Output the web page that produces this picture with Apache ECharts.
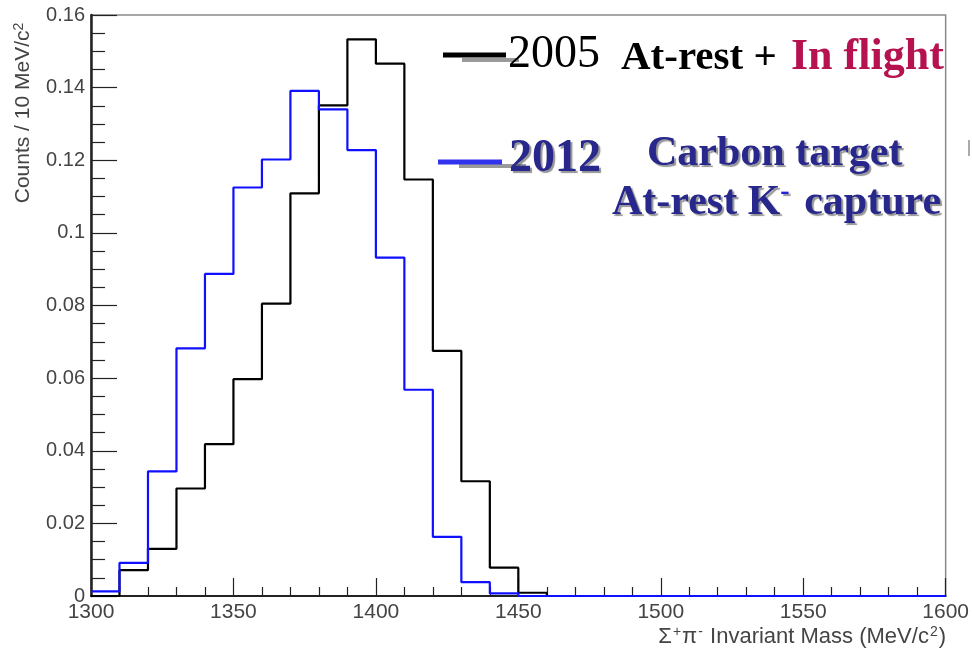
<!DOCTYPE html>
<html>
<head>
<meta charset="utf-8">
<script src="https://cdn.jsdelivr.net/npm/echarts@6/dist/echarts.min.js"></script>
<style>
html,body{margin:0;padding:0;background:#fff;}
#chart{width:972px;height:651px;}
</style>
</head>
<body>
<div id="chart"></div>
<script>
// Bin low edges (MeV/c^2), 10 MeV bins
var binLow = [1300,1310,1320,1330,1340,1350,1360,1370,1380,1390,
              1400,1410,1420,1430,1440,1450,1460,1470,1480,1490,
              1500,1510,1520,1530,1540,1550,1560,1570,1580,1590];
var xMax = 1600;
// 2005: At-rest + In flight (black)
var counts2005 = [0.0000,0.0071,0.0130,0.0296,0.0418,0.0597,0.0805,0.1109,0.1351,0.1533,
                  0.1466,0.1147,0.0675,0.0316,0.0078,0.0009,0,0,0,0,
                  0,0,0,0,0,0,0,0,0,0];
// 2012: Carbon target, at-rest K- capture (blue)
var counts2012 = [0.0013,0.0091,0.0343,0.0682,0.0887,0.1125,0.1202,0.1391,0.1340,0.1228,
                  0.0932,0.0568,0.0163,0.0038,0.0007,0,0,0,0,0,
                  0,0,0,0,0,0,0,0,0,0];

function histData(vals){
  var d = [];
  for (var i=0;i<binLow.length;i++) d.push([binLow[i], vals[i]]);
  d.push([xMax, vals[vals.length-1]]);
  return d;
}

var chart = echarts.init(document.getElementById('chart'), null, {renderer:'canvas'});
var navy = '#27278c';
var sans = '"Liberation Sans", Arial, sans-serif';
var serif = '"Liberation Serif", serif';
var shadow = {textShadowColor:'rgba(60,60,60,0.55)', textShadowOffsetX:2, textShadowOffsetY:2, textShadowBlur:1};
var option = {
  animation:false,
  backgroundColor:'#ffffff',
  grid:{left:91, right:26, top:15, bottom:55, show:true, borderColor:'#8a8a8a', borderWidth:1.5, backgroundColor:'transparent'},
  xAxis:{
    type:'value', min:1300, max:1600, interval:50,
    axisLine:{show:true, onZero:false, lineStyle:{color:'#222', width:2}},
    axisTick:{show:true, inside:true, length:18, lineStyle:{color:'#222', width:1.2}},
    minorTick:{show:true, splitNumber:5, length:9, lineStyle:{color:'#222', width:1.2}},
    splitLine:{show:false},
    axisLabel:{color:'#444', fontSize:21, fontFamily:sans, margin:6,
      showMinLabel:true, showMaxLabel:true, formatter:function(v){ return String(v); }}
  },
  yAxis:{
    type:'value', min:0, max:0.16, interval:0.02,
    axisLine:{show:true, lineStyle:{color:'#222', width:2.5}},
    axisTick:{show:true, inside:true, length:26, lineStyle:{color:'#222', width:1.2}},
    minorTick:{show:true, splitNumber:4, length:14, lineStyle:{color:'#222', width:1.2}},
    splitLine:{show:false},
    axisLabel:{color:'#444', fontSize:20, fontFamily:sans, margin:6,
      formatter:function(v){ return String(Math.round(v*100)/100); }}
  },
  series:[
    {type:'line', step:'end', data:histData(counts2005), symbol:'none',
     lineStyle:{color:'#000000', width:2.2}, z:3},
    {type:'line', step:'end', data:histData(counts2012), symbol:'none',
     lineStyle:{color:'#1010ff', width:2.2}, z:4}
  ],
  graphic:[
    {type:'text', rotation:Math.PI/2, x:23, y:113, style:{text:'Counts / 10 MeV/c{s|2}', fill:'#444',
      font:'21px ' + sans, align:'center', verticalAlign:'middle',
      rich:{s:{font:'14px ' + sans, fill:'#444', verticalAlign:'top', padding:[0,0,8,0]}}}},
    {type:'text', x:946, y:637, style:{text:'Σ{s|+}π{s|-} Invariant Mass (MeV/c{s|2})', fill:'#444',
      font:'22px ' + sans, align:'right', verticalAlign:'middle',
      rich:{s:{font:'14px ' + sans, fill:'#444', verticalAlign:'top', padding:[0,1,9,1]}}}},
    // legend 2005
    {type:'line', shape:{x1:462,y1:60,x2:519,y2:60}, style:{stroke:'#9a9a9a', lineWidth:4}, z:10},
    {type:'line', shape:{x1:443,y1:55,x2:506,y2:55}, style:{stroke:'#000', lineWidth:5}, z:11},
    {type:'text', x:508, y:55, z:12, style:{text:'2005', fill:'#000', font:'46px ' + serif,
      align:'left', verticalAlign:'middle'}},
    {type:'text', x:621, y:58, z:12, style:{text:'At-rest +', fill:'#000', font:'bold 41px ' + serif,
      align:'left', verticalAlign:'middle'}},
    {type:'text', x:791, y:58, z:12, style:{text:'In flight', fill:'#b5124f', font:'bold 44px ' + serif,
      align:'left', verticalAlign:'middle'}},
    // legend 2012
    {type:'line', shape:{x1:459,y1:166,x2:526,y2:166}, style:{stroke:'#9a9a9a', lineWidth:4}, z:10},
    {type:'line', shape:{x1:438,y1:162,x2:502,y2:162}, style:{stroke:'#3333ee', lineWidth:5}, z:11},
    {type:'text', x:509, y:159, z:12, style:Object.assign({text:'2012', fill:navy, font:'bold 46px ' + serif,
      align:'left', verticalAlign:'middle'}, shadow)},
    {type:'text', x:647, y:154, z:12, style:Object.assign({text:'Carbon target', fill:navy, font:'bold 42px ' + serif,
      align:'left', verticalAlign:'middle'}, shadow)},
    {type:'text', x:612, y:203, z:12, style:Object.assign({text:'At-rest K{s|-} capture', fill:navy, font:'bold 42px ' + serif,
      align:'left', verticalAlign:'middle',
      rich:{s:{fill:'#2222dd', font:'bold 28px ' + serif, verticalAlign:'top', padding:[0,4,22,0]}}}, shadow)},
    {type:'line', shape:{x1:969,y1:140,x2:969,y2:156}, style:{stroke:'#aaa', lineWidth:2}}
  ]
};
chart.setOption(option);
</script>
</body>
</html>
